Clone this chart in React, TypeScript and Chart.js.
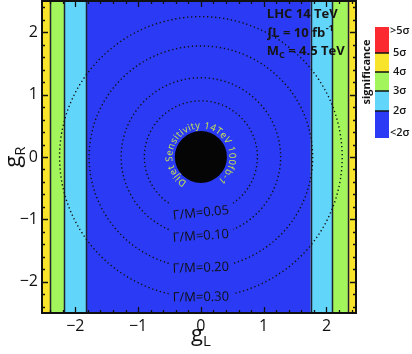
import React, { useEffect, useRef } from 'react';
import { Chart, registerables } from 'chart.js';
Chart.register(...registerables);

// axis ranges and ticks
const xRange = [-2.53, 2.47];
const yRange = [-2.5, 2.5];
const majorTicks = [-2, -1, 0, 1, 2];
const minorStep = 0.2;

// significance levels: 0 <2σ, 1 2σ–3σ, 2 3σ–4σ, 3 4σ–5σ, 4 >5σ
const levelColors = ['#2b3bf5', '#62d5fb', '#a2f55a', '#f7e42b', '#fb2a30'];
const levelLabels = ['<2σ', '2σ', '3σ', '4σ', '5σ', '>5σ'];

// vertical significance bands along g_L
const bandEdges = [-2.53, -2.40, -2.18, -1.83, 1.75, 2.09, 2.34, 2.47];
const bandLevels = [3, 2, 1, 0, 1, 2, 3];

// width contours (circles around origin)
const widthRatios = [0.05, 0.10, 0.20, 0.30];
const widthRadii = [0.90, 1.27, 1.78, 2.25];
const labelTilt = [-6, -4, -2, -1];

// dijet exclusion disk
const diskRadius = 0.415;
const dijetText = 'Dijet Sensitivity 14TeV 100fb-1';

const FONT = '"Open Sans", "Liberation Sans", sans-serif';

function fmt(v: number) {
  return String(v).replace('-', '\u2212');
}

const drawPlugin = {
  id: 'physicsDraw',
  beforeDatasetsDraw(chart: any) {
    const { ctx, chartArea: a, scales } = chart;
    const x = scales.x, y = scales.y;
    ctx.save();
    ctx.beginPath();
    ctx.rect(a.left, a.top, a.right - a.left, a.bottom - a.top);
    ctx.clip();
    // bands
    for (let i = 0; i < bandLevels.length; i++) {
      const x0 = x.getPixelForValue(bandEdges[i]);
      const x1 = x.getPixelForValue(bandEdges[i + 1]);
      ctx.fillStyle = levelColors[bandLevels[i]];
      ctx.fillRect(x0, a.top, x1 - x0, a.bottom - a.top);
    }
    ctx.strokeStyle = '#1c2433';
    ctx.lineWidth = 1.5;
    for (let i = 1; i < bandEdges.length - 1; i++) {
      const px = Math.round(x.getPixelForValue(bandEdges[i])) + 0.5;
      ctx.beginPath();
      ctx.moveTo(px, a.top);
      ctx.lineTo(px, a.bottom);
      ctx.stroke();
    }
    // width circles
    const cx = x.getPixelForValue(0), cy = y.getPixelForValue(0);
    const ux = x.getPixelForValue(1) - cx;
    const uy = cy - y.getPixelForValue(1);
    ctx.font = '13px ' + FONT;
    for (let i = 0; i < widthRadii.length; i++) {
      const rx = widthRadii[i] * ux, ry = widthRadii[i] * uy;
      const label = '\u0393/M=' + widthRatios[i].toFixed(2);
      const w = ctx.measureText(label).width;
      const g = Math.asin(Math.min(1, (w / 2 + 4) / rx));
      ctx.save();
      ctx.setLineDash([1.3, 2.7]);
      ctx.lineWidth = 1.4;
      ctx.strokeStyle = '#111';
      ctx.beginPath();
      ctx.ellipse(cx, cy, rx, ry, 0, Math.PI / 2 + g, Math.PI / 2 - g + 2 * Math.PI);
      ctx.stroke();
      ctx.restore();
      ctx.save();
      ctx.translate(cx, cy + ry);
      ctx.rotate((labelTilt[i] * Math.PI) / 180);
      ctx.fillStyle = '#111';
      ctx.textAlign = 'center';
      ctx.textBaseline = 'middle';
      ctx.fillText(label, 0, 0);
      ctx.restore();
    }
    // disk
    ctx.fillStyle = '#050505';
    ctx.beginPath();
    ctx.ellipse(cx, cy, diskRadius * ux, diskRadius * uy, 0, 0, 2 * Math.PI);
    ctx.fill();
    // arc text
    const r = diskRadius * ux + 2.5;
    const track = 0.45;
    ctx.font = '9.5px ' + FONT;
    ctx.fillStyle = '#cde84a';
    ctx.textAlign = 'center';
    ctx.textBaseline = 'alphabetic';
    const widths = Array.from(dijetText).map((c) => ctx.measureText(c).width + track);
    const total = widths.reduce((s, v) => s + v, 0) / r;
    const mid = (-3.5 * Math.PI) / 180;
    let th = mid - total / 2;
    Array.from(dijetText).forEach((c, k) => {
      const t = th + widths[k] / r / 2;
      ctx.save();
      ctx.translate(cx + r * Math.sin(t), cy - r * Math.cos(t));
      ctx.rotate(t);
      ctx.fillText(c, 0, 0);
      ctx.restore();
      th += widths[k] / r;
    });
    ctx.restore();
  },
  afterDraw(chart: any) {
    const { ctx, chartArea: a, scales } = chart;
    const x = scales.x, y = scales.y;
    ctx.save();
    // ticks (inward, all four sides)
    ctx.strokeStyle = '#111';
    ctx.lineWidth = 1.3;
    const kx0 = Math.ceil(xRange[0] / minorStep - 1e-6), kx1 = Math.floor(xRange[1] / minorStep + 1e-6);
    for (let k = kx0; k <= kx1; k++) {
      const v = k * minorStep;
      const major = Math.abs(v - Math.round(v)) < 1e-6;
      const len = major ? 6 : 3;
      const px = Math.round(x.getPixelForValue(v)) + 0.5;
      ctx.beginPath();
      ctx.moveTo(px, a.bottom); ctx.lineTo(px, a.bottom - len);
      ctx.moveTo(px, a.top); ctx.lineTo(px, a.top + len);
      ctx.stroke();
    }
    const ky0 = Math.ceil(yRange[0] / minorStep - 1e-6), ky1 = Math.floor(yRange[1] / minorStep + 1e-6);
    for (let k = ky0; k <= ky1; k++) {
      const v = k * minorStep;
      const major = Math.abs(v - Math.round(v)) < 1e-6;
      const len = major ? 6 : 3;
      const py = Math.round(y.getPixelForValue(v)) + 0.5;
      ctx.beginPath();
      ctx.moveTo(a.left, py); ctx.lineTo(a.left + len, py);
      ctx.moveTo(a.right, py); ctx.lineTo(a.right - len, py);
      ctx.stroke();
    }
    // frame
    ctx.lineWidth = 2;
    ctx.strokeStyle = '#111';
    ctx.strokeRect(a.left, a.top, a.right - a.left, a.bottom - a.top);

    // annotations (top right)
    ctx.fillStyle = '#151515';
    ctx.textAlign = 'left';
    ctx.textBaseline = 'alphabetic';
    const ax = x.getPixelForValue(1.05);
    ctx.font = 'bold 13px ' + FONT;
    ctx.fillText('LHC 14 TeV', ax, 18);
    let t1 = '\u222BL = 10 fb';
    ctx.fillText(t1, ax, 37);
    let w1 = ctx.measureText(t1).width;
    ctx.font = 'bold 9px ' + FONT;
    ctx.fillText('-1', ax + w1 + 0.5, 31);
    ctx.font = 'bold 13px ' + FONT;
    ctx.fillText('M', ax, 55);
    const wm = ctx.measureText('M').width;
    ctx.font = 'bold 9px ' + FONT;
    ctx.fillText('C', ax + wm, 58);
    const wc = ctx.measureText('C').width;
    ctx.font = 'bold 13px ' + FONT;
    ctx.fillText(' = 4.5 TeV', ax + wm + wc, 55);

    // axis titles
    ctx.fillStyle = '#111';
    const gx = x.getPixelForValue(0);
    ctx.font = '22px ' + FONT;
    const wg = ctx.measureText('g').width;
    ctx.font = '15px ' + FONT;
    const wl = ctx.measureText('L').width;
    const sx = gx - (wg + wl) / 2;
    ctx.font = '22px ' + FONT;
    ctx.fillText('g', sx, 341);
    ctx.font = '15px ' + FONT;
    ctx.fillText('L', sx + wg, 346);

    const gy = y.getPixelForValue(0);
    ctx.save();
    ctx.translate(20, gy);
    ctx.rotate(-Math.PI / 2);
    ctx.font = '15px ' + FONT;
    const wr = ctx.measureText('R').width;
    const sy = -(wg + wr) / 2;
    ctx.font = '22px ' + FONT;
    ctx.fillText('g', sy, 0);
    ctx.font = '15px ' + FONT;
    ctx.fillText('R', sy + wg, 5);
    ctx.restore();

    // colour bar legend
    const cbLeft = 375, cbRight = 389;
    const cbEdges = [138, 111, 91, 72, 53, 27];
    for (let i = 0; i < 5; i++) {
      ctx.fillStyle = levelColors[i];
      ctx.fillRect(cbLeft, cbEdges[i + 1], cbRight - cbLeft, cbEdges[i] - cbEdges[i + 1]);
    }
    ctx.strokeStyle = '#111';
    ctx.lineWidth = 1.5;
    for (let i = 1; i < 5; i++) {
      ctx.beginPath();
      ctx.moveTo(cbLeft, cbEdges[i]);
      ctx.lineTo(cbRight, cbEdges[i]);
      ctx.stroke();
    }
    ctx.fillStyle = '#151515';
    ctx.font = '600 11px ' + FONT;
    ctx.textBaseline = 'middle';
    const labelY = [133, 111, 91, 72, 53, 31];
    levelLabels.forEach((l, i) => {
      const lx = i === 0 || i === 5 ? 390 : 393;
      ctx.fillText(l, lx, labelY[i]);
    });
    ctx.save();
    ctx.translate(367, 72);
    ctx.rotate(-Math.PI / 2);
    ctx.textAlign = 'center';
    ctx.font = 'bold 11px ' + FONT;
    ctx.fillText('significance', 0, 0);
    ctx.restore();

    ctx.restore();
  },
};

export default function App() {
  const ref = useRef<HTMLCanvasElement | null>(null);
  useEffect(() => {
    if (!ref.current) return;
    const chart = new Chart(ref.current, {
      type: 'scatter',
      data: { datasets: [{ data: [], pointRadius: 0 }] },
      options: {
        animation: false,
        responsive: false,
        devicePixelRatio: 1,
        layout: { padding: { left: 0, top: 1, right: 56, bottom: 0 } },
        plugins: { legend: { display: false }, tooltip: { enabled: false } },
        scales: {
          x: {
            type: 'linear',
            min: xRange[0],
            max: xRange[1],
            afterBuildTicks: (s: any) => {
              s.ticks = majorTicks.map((v) => ({ value: v }));
            },
            afterFit: (s: any) => {
              s.height = 41;
              s.paddingLeft = 0;
              s.paddingRight = 0;
            },
            grid: { display: false, drawTicks: false },
            border: { display: false },
            ticks: {
              font: { family: FONT, size: 16 },
              color: '#111',
              padding: 4,
              maxRotation: 0,
              autoSkip: false,
              callback: (v: any) => fmt(Number(v)),
            },
          },
          y: {
            type: 'linear',
            min: yRange[0],
            max: yRange[1],
            afterBuildTicks: (s: any) => {
              s.ticks = majorTicks.map((v) => ({ value: v }));
            },
            afterFit: (s: any) => {
              s.width = 42;
              s.paddingTop = 0;
              s.paddingBottom = 0;
            },
            grid: { display: false, drawTicks: false },
            border: { display: false },
            ticks: {
              font: { family: FONT, size: 16 },
              color: '#111',
              padding: 4,
              autoSkip: false,
              callback: (v: any) => fmt(Number(v)),
            },
          },
        },
      },
      plugins: [drawPlugin],
    } as any);
    return () => chart.destroy();
  }, []);
  return (
    <div style={{ position: 'fixed', left: 0, top: 0, width: 412, height: 354, background: '#fff' }}>
      <canvas ref={ref} width={412} height={354} style={{ display: 'block' }} />
    </div>
  );
}
